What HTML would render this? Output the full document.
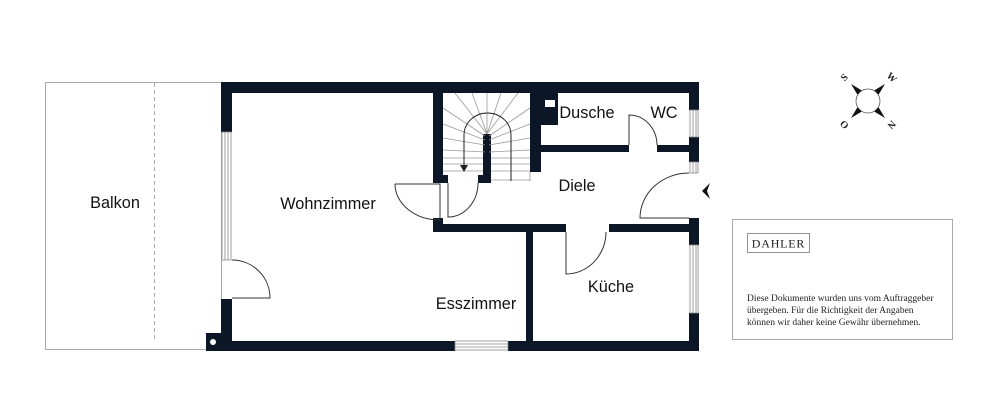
<!DOCTYPE html>
<html><head><meta charset="utf-8"><style>
html,body{margin:0;padding:0;background:#fff;width:1000px;height:408px;overflow:hidden}
svg{display:block}
.l{font-family:"Liberation Sans",sans-serif;font-size:16.3px;fill:#111}
.s{font-family:"Liberation Serif",serif;fill:#222}
</style></head><body>
<svg width="1000" height="408" viewBox="0 0 1000 408" xmlns="http://www.w3.org/2000/svg">
<!-- Balkon -->
<rect x="45.5" y="82.5" width="176" height="267" fill="none" stroke="#aaa" stroke-width="1"/>
<line x1="154.5" y1="83" x2="154.5" y2="342" stroke="#aaa" stroke-width="1" stroke-dasharray="4,3"/>
<text class="l" x="115" y="208" text-anchor="middle">Balkon</text>

<g fill="#0b1626">
<rect x="221" y="82" width="478" height="11"/>
<rect x="221" y="82" width="11" height="50"/>
<rect x="221" y="299" width="11" height="52"/>
<rect x="206" y="333" width="26" height="18"/>
<rect x="206" y="341" width="249" height="10"/>
<rect x="508" y="341" width="191" height="10"/>
<rect x="689" y="82" width="10" height="28"/>
<rect x="689" y="137" width="10" height="25"/>
<rect x="689" y="218" width="10" height="27"/>
<rect x="689" y="313" width="10" height="38"/>
<rect x="433" y="92" width="10" height="91"/>
<rect x="433" y="175" width="15" height="8"/>
<rect x="530" y="92" width="11" height="80"/>
<rect x="530" y="92" width="28" height="33"/>
<rect x="483" y="134" width="8" height="49"/>
<rect x="478" y="175" width="13" height="8"/>
<rect x="541" y="145" width="88" height="7"/>
<rect x="657" y="145" width="42" height="7"/>
<rect x="433" y="224" width="133" height="8"/>
<rect x="433" y="218" width="10" height="14"/>
<rect x="609" y="224" width="90" height="8"/>
<rect x="526" y="224" width="7" height="127"/>
</g>
<circle cx="213" cy="342" r="3" fill="#fff"/>
<rect x="545" y="100" width="10" height="7" fill="#fff"/>

<g fill="none" stroke="#888" stroke-width="0.8">
<rect x="222" y="132" width="9" height="128"/>
<line x1="225" y1="132" x2="225" y2="260"/><line x1="228" y1="132" x2="228" y2="260"/>
<rect x="455" y="341" width="53" height="9"/>
<line x1="455" y1="344" x2="508" y2="344"/><line x1="455" y1="347" x2="508" y2="347"/>
<rect x="690" y="110" width="8" height="27"/>
<line x1="693" y1="110" x2="693" y2="137"/><line x1="696" y1="110" x2="696" y2="137"/>
<rect x="690" y="162" width="8" height="11"/>
<line x1="693" y1="162" x2="693" y2="173"/><line x1="696" y1="162" x2="696" y2="173"/>
<rect x="690" y="245" width="8" height="68"/>
<line x1="693" y1="245" x2="693" y2="313"/><line x1="696" y1="245" x2="696" y2="313"/>
</g>

<g fill="none" stroke="#333" stroke-width="1">
<path d="M232 260 A38 38 0 0 1 270 298 L232 298"/>
<path d="M395 184 L440 184 L440 220 A45 36 0 0 1 395 184"/>
<path d="M448 183 L448 217 A30 34 0 0 0 478 183"/>
<path d="M629 145 L629 115 A28 30 0 0 1 657 145"/>
<path d="M689 173 A49 45 0 0 0 640 218 L689 218"/>
<path d="M566 232 L566 274 A40 42 0 0 0 606 232"/>
</g>

<g stroke="#999" stroke-width="0.8" fill="none">
<line x1="487" y1="134" x2="455" y2="93"/>
<line x1="487" y1="134" x2="472" y2="93"/>
<line x1="487" y1="134" x2="487" y2="93"/>
<line x1="487" y1="134" x2="501" y2="93"/>
<line x1="487" y1="134" x2="518" y2="93"/>
<line x1="485" y1="136" x2="443" y2="108"/>
<line x1="485" y1="140" x2="443" y2="124"/>
<line x1="485" y1="145" x2="443" y2="138"/>
<line x1="485" y1="152" x2="443" y2="150"/>
<line x1="489" y1="136" x2="530" y2="108"/>
<line x1="489" y1="140" x2="530" y2="124"/>
<line x1="489" y1="145" x2="530" y2="138"/>
<line x1="489" y1="152" x2="530" y2="150"/>
<line x1="443" y1="158" x2="483" y2="158"/><line x1="443" y1="164" x2="483" y2="164"/>
<line x1="443" y1="171" x2="483" y2="171"/>
<line x1="491" y1="158" x2="530" y2="158"/><line x1="491" y1="164" x2="530" y2="164"/>
<line x1="491" y1="171" x2="530" y2="171"/><line x1="491" y1="180" x2="530" y2="180"/>
<line x1="530" y1="172" x2="530" y2="181"/>
</g>
<path d="M464 168 L464 135 A23.5 22 0 0 1 511 135 L511 181" fill="none" stroke="#222" stroke-width="1"/>
<path d="M460 165 L468 165 L464 172 Z" fill="#222"/>

<path d="M710 183 L702 191 L710 199 L707 191 Z" fill="#111"/>

<text class="l" x="328" y="209" text-anchor="middle">Wohnzimmer</text>
<text class="l" x="476" y="309" text-anchor="middle">Esszimmer</text>
<text class="l" x="611" y="292" text-anchor="middle">Küche</text>
<text class="l" x="577" y="191" text-anchor="middle">Diele</text>
<text class="l" x="587" y="118" text-anchor="middle">Dusche</text>
<text class="l" x="664" y="118" text-anchor="middle">WC</text>

<g transform="translate(868,101)">
<circle r="12" fill="#fff" stroke="#555" stroke-width="0.8"/>
<g transform="rotate(-45)"><path d="M-3 -12 L0 -24 L3 -12 Z" fill="#111"/></g>
<g transform="rotate(45)"><path d="M-3 -12 L0 -24 L3 -12 Z" fill="#111"/></g>
<g transform="rotate(135)"><path d="M-3 -12 L0 -24 L3 -12 Z" fill="#111"/></g>
<g transform="rotate(-135)"><path d="M-3 -12 L0 -24 L3 -12 Z" fill="#111"/></g>
<text class="s" font-size="10" font-weight="bold" transform="translate(-23,-23) rotate(-45)" text-anchor="middle" dominant-baseline="middle">S</text>
<text class="s" font-size="10" font-weight="bold" transform="translate(23,-23) rotate(45)" text-anchor="middle" dominant-baseline="middle">W</text>
<text class="s" font-size="10" font-weight="bold" transform="translate(-23,23) rotate(-135)" text-anchor="middle" dominant-baseline="middle">O</text>
<text class="s" font-size="10" font-weight="bold" transform="translate(23,23) rotate(135)" text-anchor="middle" dominant-baseline="middle">N</text>
</g>

<rect x="732.5" y="219.5" width="220" height="120" fill="none" stroke="#aaa" stroke-width="1"/>
<rect x="747.5" y="233.5" width="62" height="19" fill="none" stroke="#777" stroke-width="0.8"/>
<text class="s" x="778.5" y="247.5" font-size="12" letter-spacing="0.8" text-anchor="middle">DAHLER</text>
<text class="s" x="747" y="301" font-size="9.5">Diese Dokumente wurden uns vom Auftraggeber</text>
<text class="s" x="747" y="313" font-size="9.5">übergeben. Für die Richtigkeit der Angaben</text>
<text class="s" x="747" y="325" font-size="9.5">können wir daher keine Gewähr übernehmen.</text>
</svg>
</body></html>
